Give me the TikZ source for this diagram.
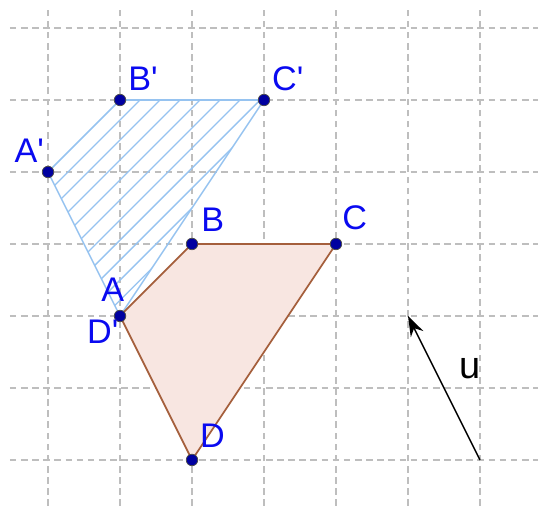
\documentclass[tikz,border=0pt]{standalone}
\usepackage{fontspec}
\setmainfont{Liberation Sans}
\usetikzlibrary{arrows.meta,calc}
\definecolor{grisGrille}{RGB}{190,190,190}
\definecolor{bleuPoint}{RGB}{0,0,160}
\definecolor{bleuTexte}{RGB}{10,10,240}
\definecolor{bleuHach}{RGB}{150,195,240}
\definecolor{brunBord}{RGB}{165,95,60}
\definecolor{roseFond}{RGB}{248,230,225}

\begin{document}
\begin{tikzpicture}[
  grille/.style={grisGrille,line width=0.5pt,dash pattern=on 2.6pt off 1.8pt},
  pt/.style={circle,fill=bleuPoint,draw=black!70,line width=0.3pt,inner sep=0pt,minimum size=0.16cm},
  lbl/.style={text=bleuTexte,font=\fontsize{13.5}{13.5}\selectfont,inner sep=0pt}]

  \useasboundingbox (-0.667,-0.639) rectangle (6.806,6.389);

  % grille
  \foreach \j in {0,...,6}
    \draw[grille] (-0.53,\j) -- (6.806,\j);
  \foreach \i in {0,...,6}
    \draw[grille] (\i,-0.639) -- (\i,6.29);

  % sommets
  \coordinate (A) at (1,2);
  \coordinate (B) at (2,3);
  \coordinate (C) at (4,3);
  \coordinate (D) at (2,0);
  \coordinate (Ap) at (0,4);
  \coordinate (Bp) at (1,5);
  \coordinate (Cp) at (3,5);
  \coordinate (U0) at (6,0);
  \coordinate (U1) at (5,2);

  % image hachuree A'B'C'D'
  \begin{scope}
    \clip (Ap) -- (Bp) -- (Cp) -- (A) -- cycle;
    \foreach \k in {1,...,11}
      \draw[bleuHach,line width=0.5pt] (-1,{3-0.278*\k}) -- (5,{9-0.278*\k});
  \end{scope}
  \draw[bleuHach,line width=0.6pt] (Ap) -- (Bp) -- (Cp) -- (A) -- cycle;

  % polygone ABCD
  \draw[brunBord,fill=roseFond,line width=0.7pt] (A) -- (B) -- (C) -- (D) -- cycle;

  % vecteur u
  \draw[-{Stealth[length=8pt,width=5.5pt]},line width=0.6pt] (U0) -- (U1);
  \node[font=\fontsize{15}{15}\selectfont,inner sep=0pt] (lu) at ($(U0)!0.5!(U1)+(0.36,0.27)$) {u};

  % points
  \foreach \p in {A,B,C,D,Ap,Bp,Cp}
    \node[pt] (n\p) at (\p) {};

  % etiquettes
  \node[lbl] (lA)  at ($(A)+(-0.10,0.36)$) {A};
  \node[lbl] (lDp) at ($(A)+(-0.24,-0.22)$) {D\textquotesingle};
  \node[lbl] (lB)  at ($(B)+(0.29,0.34)$) {B};
  \node[lbl] (lC)  at ($(C)+(0.26,0.37)$) {C};
  \node[lbl] (lD)  at ($(D)+(0.285,0.33)$) {D};
  \node[lbl] (lAp) at ($(Ap)+(-0.26,0.30)$) {A\textquotesingle};
  \node[lbl] (lBp) at ($(Bp)+(0.32,0.29)$) {B\textquotesingle};
  \node[lbl] (lCp) at ($(Cp)+(0.33,0.29)$) {C\textquotesingle};
\end{tikzpicture}
\end{document}
